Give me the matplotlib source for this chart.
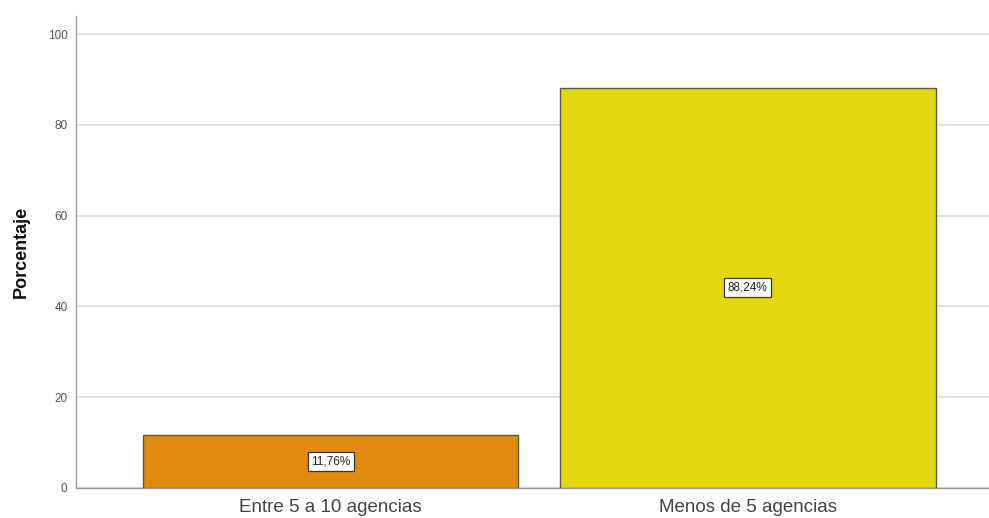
import matplotlib
matplotlib.use("Agg")
import matplotlib.pyplot as plt

plt.rcParams['font.family'] = ['Liberation Sans', 'DejaVu Sans']

# frecuencias por número de agencias
categorias = ["Entre 5 a 10 agencias", "Menos de 5 agencias"]
porcentajes = [11.76, 88.24]
colores = ["#E08A10", "#E2D70F"]
yticks = [0, 20, 40, 60, 80, 100]

fig = plt.figure(figsize=(9.89, 5.18), dpi=100)
ax = fig.add_axes([0.0768, 0.058, 0.937, 0.911])

x = range(len(categorias))
ax.bar(x, porcentajes, width=0.9, color=colores, edgecolor="#5a5a3a",
       linewidth=1.0, zorder=3)

for xi, v in zip(x, porcentajes):
    ax.text(xi, v / 2, f"{v:.2f}%".replace(".", ","), ha="center", va="center",
            fontsize=8.5, color="#222222", zorder=4,
            bbox=dict(boxstyle="square,pad=0.3", facecolor="white",
                      edgecolor="#333333", linewidth=0.9))

ax.set_xlim(-0.611, 1.611)
ax.set_ylim(0, 104)
ax.set_yticks(yticks)
ax.set_yticklabels([str(t) for t in yticks], fontsize=8.5, color="#555555")
ax.set_xticks(list(x))
ax.set_xticklabels(categorias, fontsize=13.5, color="#444444")
ax.tick_params(axis="x", length=0, pad=8)
ax.tick_params(axis="y", length=0, pad=6)

ax.set_ylabel("Porcentaje", fontsize=13, fontweight="bold", labelpad=13,
              color="#111111")

ax.yaxis.grid(True, color="#dcdcdc", linewidth=1.2, zorder=0)
for side in ["top", "right"]:
    ax.spines[side].set_visible(False)
for side in ["left", "bottom"]:
    ax.spines[side].set_color("#9a9a9a")
    ax.spines[side].set_linewidth(1.0)

fig.savefig("out.png", dpi=100)
